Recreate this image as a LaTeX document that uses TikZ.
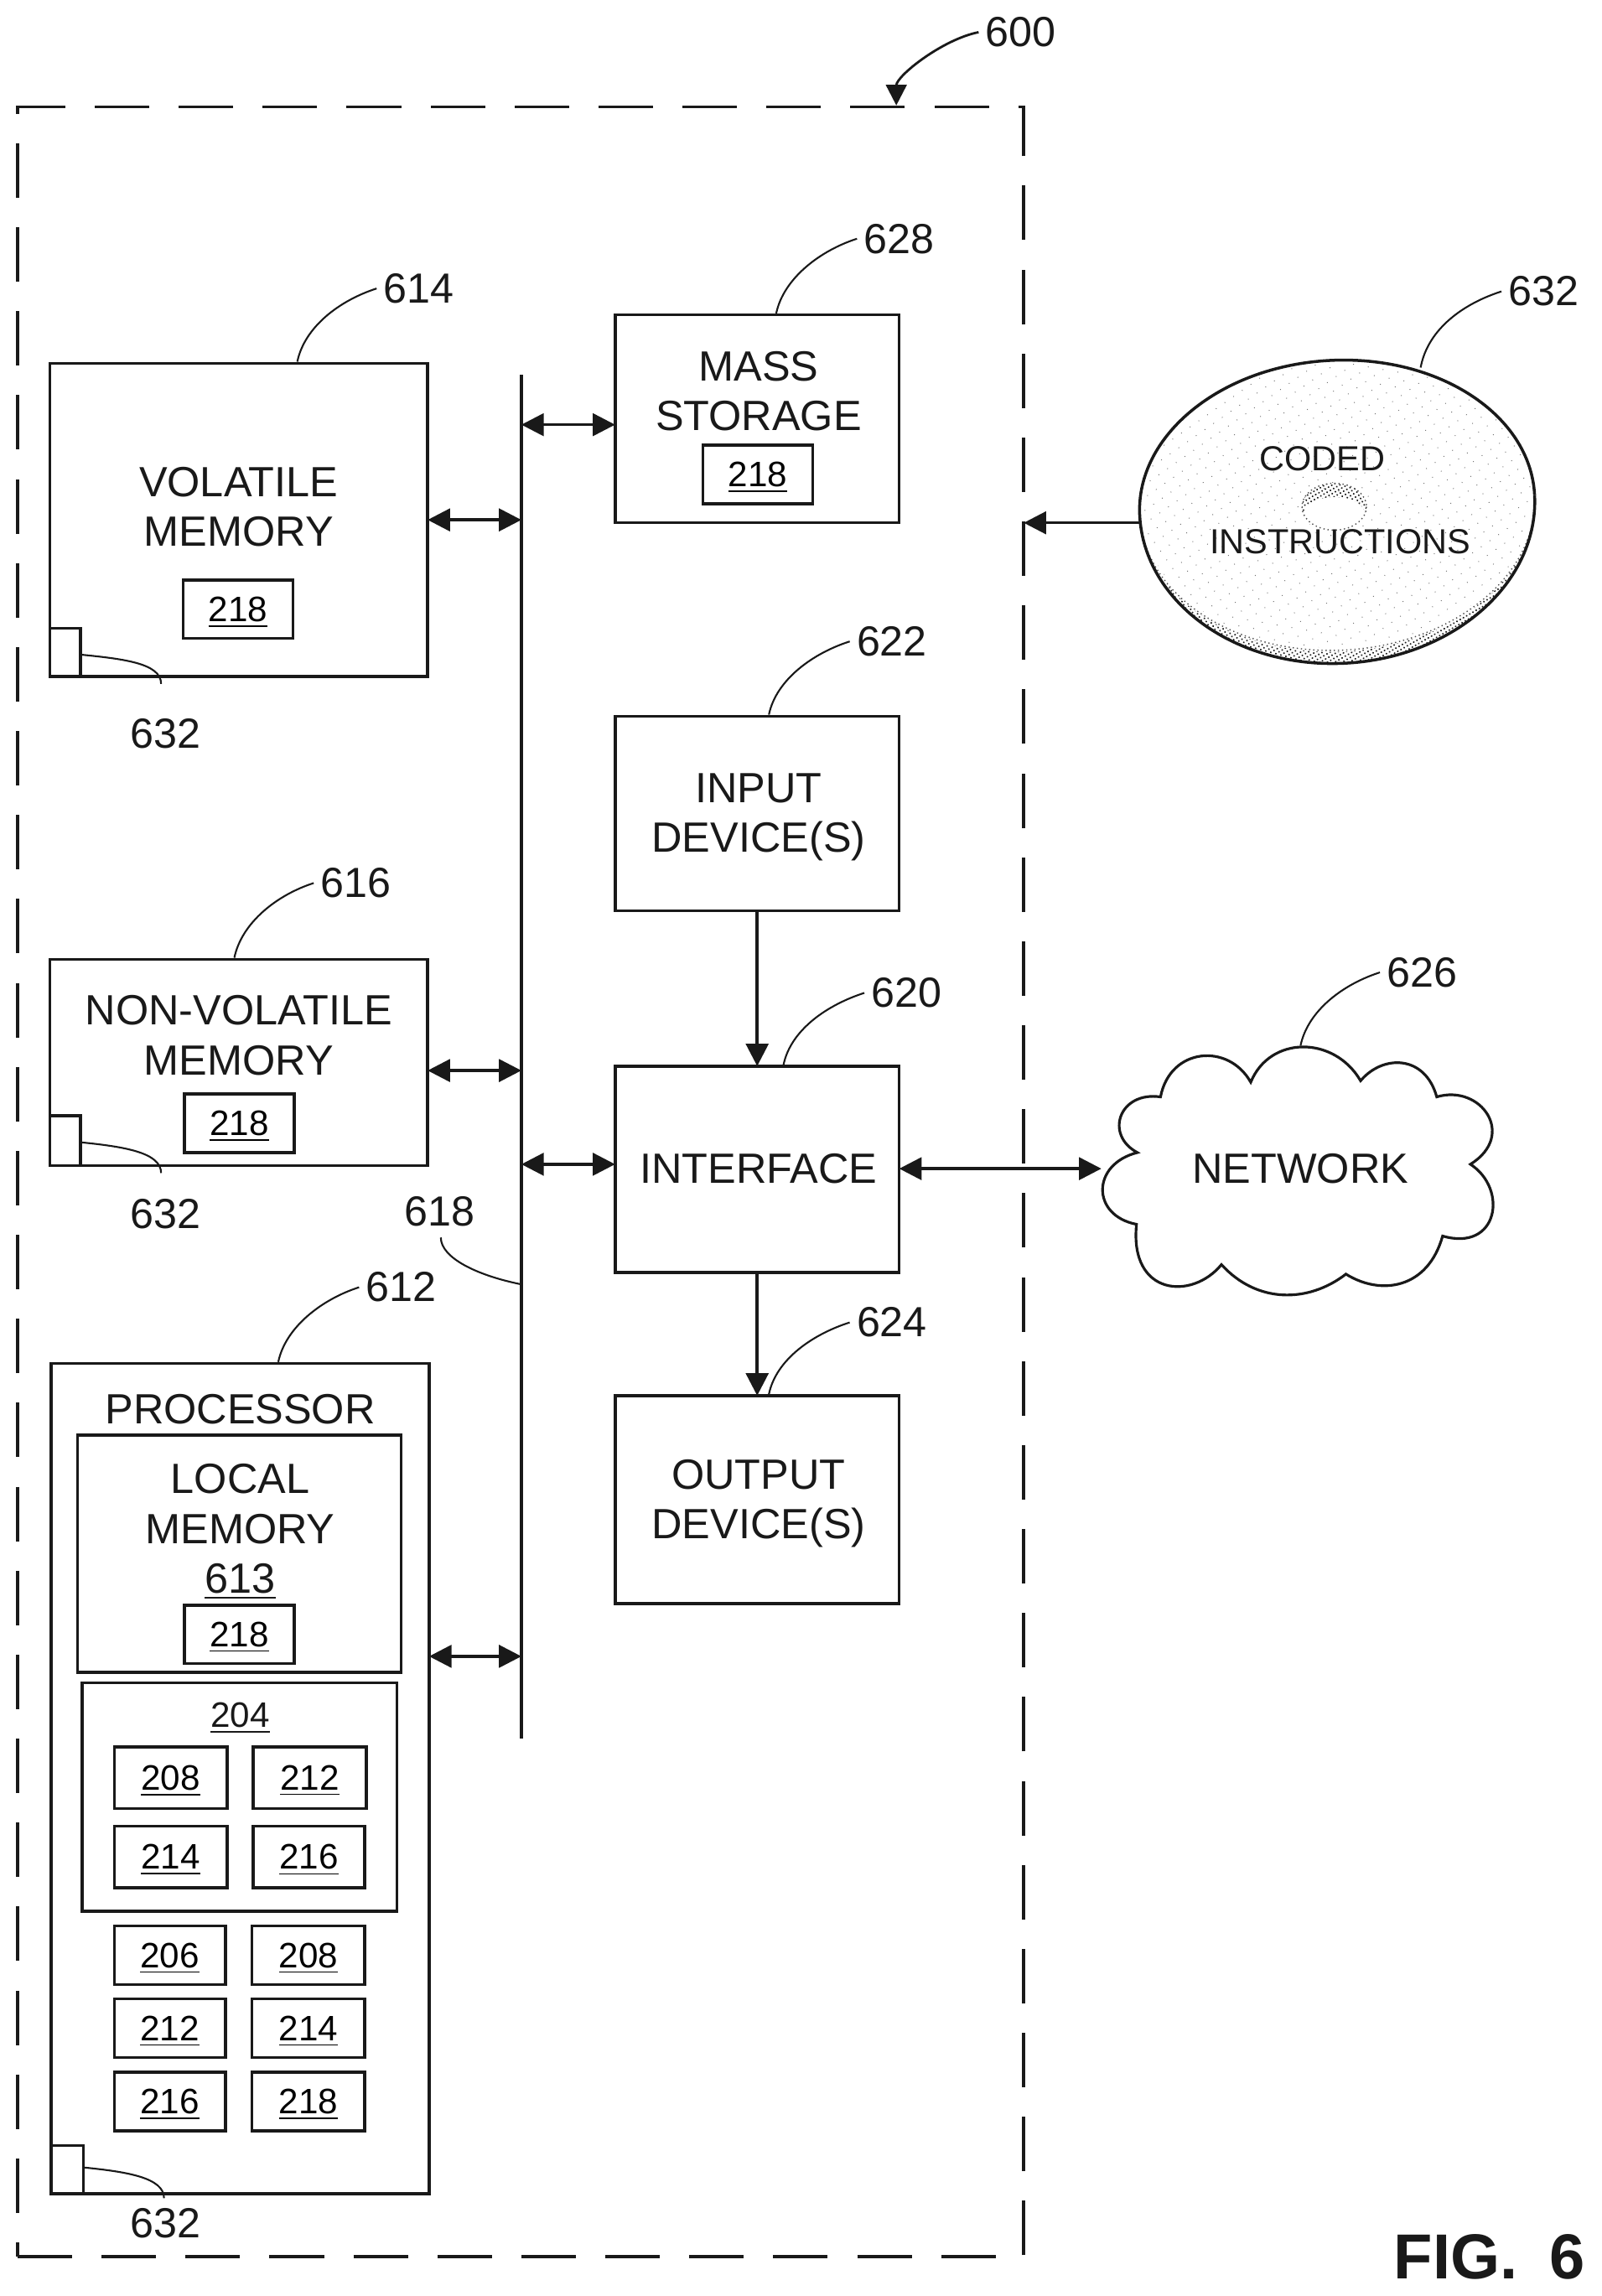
\documentclass[tikz,border=0pt]{standalone}
\usepackage{fontspec}
\setmainfont{Liberation Sans}
\usetikzlibrary{arrows.meta,patterns.meta}
\tikzset{
  x=0.01747cm,y=-0.01747cm,
  boxst/.style={draw=black!90,line width=1pt,fill=white,inner sep=0pt,outer sep=0pt,text depth=0pt,font=\fontsize{12}{14}\selectfont},
  bigtxt/.style={inner sep=0pt,align=center,font=\fontsize{14.35}{16.9}\selectfont,text=black!90},
  numtxt/.style={inner sep=0pt,outer xsep=2.4pt,outer ysep=0pt,font=\fontsize{14.3}{16}\selectfont,text=black!90},
  smalltxt/.style={inner sep=0pt,text depth=0pt,font=\fontsize{12}{14}\selectfont,text=black!90},
  disctxt/.style={inner sep=0pt,font=\fontsize{11.8}{14}\selectfont,text=black!90},
  lead/.style={draw=black!90,line width=0.6pt},
  bar/.style={draw=black!90,line width=1pt},
  one/.style={bar,-{Triangle[length=7.6pt,width=7.6pt]}},
  both/.style={bar,{Triangle[length=7.6pt,width=7.6pt]}-{Triangle[length=7.6pt,width=7.6pt]}},
  outerbox/.style={draw=black!90,line width=1pt,dash pattern=on 18.5pt off 10pt,inner sep=0pt,outer sep=0pt},
  stipple/.style={pattern={Dots[radius=0.33pt,distance=1.25pt,angle=30]},pattern color=black!90},
  sparse/.style={pattern={Dots[radius=0.2pt,distance=3.6pt,angle=35]},pattern color=black!55},
}
\newcommand{\bx}[6]{%
  \pgfmathsetmacro\bxcx{(#2+#4)/2}\pgfmathsetmacro\bxcy{(#3+#5)/2}%
  \pgfmathsetmacro\bxw{(#4-#2)*0.01747}\pgfmathsetmacro\bxh{(#5-#3)*0.01747}%
  \node[boxst,minimum width=\bxw cm,minimum height=\bxh cm] (#1) at (\bxcx,\bxcy) {#6};}
\newcommand{\ul}[1]{\underline{#1}}
\begin{document}
\begin{tikzpicture}
\useasboundingbox (0,0) rectangle (1093.3,1567.8);
% outer dashed box
\node[outerbox,minimum width=12.002cm,minimum height=25.646cm] (outer) at (355.5,807) {};
\node[numtxt] (l600) at (697,22) {600};
\coordinate (c600b) at (612,72);
\draw[lead,line width=0.8pt,-{Triangle[length=7pt,width=7pt]}] (l600.west) .. controls +(-25,5) and +(0,-20) .. (c600b);
% bus
\node[inner sep=0pt,outer sep=0pt,minimum width=0pt,minimum height=16.265cm] (bus) at (356,721.5) {};
\draw[bar] (bus.north) -- (bus.south);
% volatile memory
\bx{vol}{34}{248}{292}{462}{}
\node[bigtxt] (voltx) at (163,346) {VOLATILE\\MEMORY};
\bx{volr}{125}{396}{200}{436}{\ul{218}}
\bx{volc}{34}{429}{55}{462}{}
\node[numtxt] (l614) at (286,197) {614};
\coordinate (c614) at (203,247);
\draw[lead] (c614) .. controls +(5,-24) and +(-25,8) .. (l614.west);
\node[numtxt] (l632a) at (113,501) {632};
\coordinate (c632a) at (55,447);
\coordinate (e632a) at (110,467);
\draw[lead] (c632a) .. controls +(30,3) and +(0,-14) .. (e632a);
% non-volatile memory
\bx{nv}{34}{655}{292}{796}{}
\node[bigtxt] (nvtx) at (163,707) {NON-VOLATILE\\MEMORY};
\bx{nvr}{126}{747}{201}{787}{\ul{218}}
\bx{nvc}{34}{762}{55}{796}{}
\node[numtxt] (l616) at (243,603) {616};
\coordinate (c616) at (160,654);
\draw[lead] (c616) .. controls +(5,-24) and +(-25,8) .. (l616.west);
\node[numtxt] (l632b) at (113,829) {632};
\coordinate (c632b) at (55,780);
\coordinate (e632b) at (110,801);
\draw[lead] (c632b) .. controls +(30,3) and +(0,-14) .. (e632b);
% processor
\bx{proc}{35}{931}{293}{1498}{}
\node[bigtxt] (proctx) at (164,962) {PROCESSOR};
\bx{lm}{53}{980}{274}{1142}{}
\node[bigtxt] (lmtx) at (164,1046) {LOCAL\\MEMORY\\\ul{613}};
\bx{lmr}{126}{1096}{201}{1136}{\ul{218}}
\bx{core}{56}{1149}{271}{1305}{}
\node[smalltxt] (coretx) at (164,1171) {\ul{204}};
\bx{ca}{78}{1193}{155}{1235}{\ul{208}}
\bx{cb}{173}{1193}{250}{1235}{\ul{212}}
\bx{cc}{78}{1247}{155}{1289}{\ul{214}}
\bx{cd}{173}{1247}{249}{1289}{\ul{216}}
\bx{da}{78}{1315}{154}{1355}{\ul{206}}
\bx{db}{172}{1315}{249}{1355}{\ul{208}}
\bx{dc}{78}{1365}{154}{1405}{\ul{212}}
\bx{dd}{172}{1365}{249}{1405}{\ul{214}}
\bx{de}{78}{1415}{154}{1455}{\ul{216}}
\bx{df}{172}{1415}{249}{1455}{\ul{218}}
\bx{procc}{35}{1465}{57}{1498}{}
\node[numtxt] (l612) at (274,879) {612};
\coordinate (c612) at (190,930);
\draw[lead] (c612) .. controls +(5,-24) and +(-25,8) .. (l612.west);
\node[numtxt] (l632c) at (113,1518) {632};
\coordinate (c632c) at (57,1480);
\coordinate (e632c) at (112,1501);
\draw[lead] (c632c) .. controls +(30,3) and +(0,-14) .. (e632c);
% bus label
\node[numtxt] (l618) at (300,827) {618};
\coordinate (c618) at (356,877);
\coordinate (e618) at (301,845);
\draw[lead] (c618) .. controls +(-30,-6) and +(0,14) .. (e618);
% centre column
\bx{mass}{420}{215}{614}{357}{}
\node[bigtxt] (masstx) at (518,267) {MASS\\STORAGE};
\bx{massr}{480}{304}{555}{344}{\ul{218}}
\node[numtxt] (l628) at (614,163) {628};
\coordinate (c628) at (530,214);
\draw[lead] (c628) .. controls +(5,-24) and +(-25,8) .. (l628.west);
\bx{inp}{420}{489}{614}{622}{}
\node[bigtxt] (inptx) at (518,558) {INPUT\\DEVICE(S)};
\node[numtxt] (l622) at (609,438) {622};
\coordinate (c622) at (525,488);
\draw[lead] (c622) .. controls +(5,-24) and +(-25,8) .. (l622.west);
\bx{intf}{420}{728}{614}{869}{}
\node[bigtxt] (intftx) at (518,798) {INTERFACE};
\node[numtxt] (l620) at (619,678) {620};
\coordinate (c620) at (535,727);
\draw[lead] (c620) .. controls +(5,-24) and +(-25,8) .. (l620.west);
\bx{outp}{420}{953}{614}{1095}{}
\node[bigtxt] (outptx) at (518,1026.5) {OUTPUT\\DEVICE(S)};
\node[numtxt] (l624) at (609,903) {624};
\coordinate (c624) at (525,952);
\draw[lead] (c624) .. controls +(5,-24) and +(-25,8) .. (l624.west);
% arrows
\draw[both] (vol.east) -- (vol.east -| bus);
\coordinate (nvp) at (292,731);
\draw[both] (nvp) -- (nvp -| bus);
\coordinate (procp) at (293,1131);
\draw[both] (procp) -- (procp -| bus);
\coordinate (massp) at (420,290);
\draw[both] (massp -| bus) -- (massp);
\coordinate (intfp) at (420,795);
\draw[both] (intfp -| bus) -- (intfp);
\coordinate (inpp) at (517,622);
\draw[one] (inpp) -- (inpp |- intf.north);
\coordinate (intfq) at (517,869);
\draw[one] (intfq) -- (intfq |- outp.north);
% network
\node[bigtxt] (nettx) at (888,798) {NETWORK};
\draw[bar,line width=0.9pt] (776,836) .. controls (745,830) and (745,795) .. (776.6,787)
 .. controls (754,775) and (764,745) .. (792.4,749)
 .. controls (799,715) and (839,712) .. (854,739)
 .. controls (867,707) and (911,707) .. (929,738)
 .. controls (944,720) and (973,720) .. (981,749)
 .. controls (1011,740) and (1036,775) .. (1004,795)
 .. controls (1030,812) and (1023,855) .. (985,844)
 .. controls (975,880) and (943,885) .. (919,870)
 .. controls (893,890) and (858,890) .. (834,863.5)
 .. controls (814,888) and (771,885) .. (776,836) -- cycle;
\coordinate (cnet) at (752,798);
\coordinate (intfr) at (614,798);
\draw[both] (intfr) -- (cnet);
\node[numtxt] (l626) at (971,664) {626};
\coordinate (c626) at (888,714);
\draw[lead] (c626) .. controls +(5,-24) and +(-25,8) .. (l626.west);
% disc
\begin{scope}[rotate around={3:(913,345)}]
\path[sparse] (913,345) ellipse[x radius=133,y radius=97];
\path[stipple] (778,346) arc[start angle=180,end angle=360,x radius=135,y radius=-107] -- (1048,346) arc[start angle=0,end angle=-180,x radius=135,y radius=-99] -- cycle;
\draw[black!70,line width=0.4pt,densely dotted] (778,345) arc[start angle=180,end angle=360,x radius=135,y radius=-99];
\draw[bar] (778,345) arc[start angle=180,end angle=360,x radius=135,y radius=99];
\draw[bar] (778,345) arc[start angle=180,end angle=0,x radius=135,y radius=108];
\end{scope}
% hole
\path[stipple] (911,346) ellipse[x radius=22,y radius=16];
\fill[white] (911,351) ellipse[x radius=21,y radius=11.5];
\draw[black!70,line width=0.4pt,densely dotted] (911,346) ellipse[x radius=22,y radius=16];
\node[disctxt] (disca) at (903,313) {CODED};
\node[disctxt] (discb) at (915,370) {INSTRUCTIONS};
\coordinate (cdisc) at (778,357);
\coordinate (outp2) at (699,357);
\draw[one] (cdisc) -- (outp2);
\node[numtxt] (l632d) at (1054,199) {632};
\coordinate (c632d) at (970,251);
\draw[lead] (c632d) .. controls +(5,-27) and +(-25,8) .. (l632d.west);
% figure label
\node[inner sep=0pt,font=\bfseries\fontsize{21.6}{26}\selectfont,text=black!90] (fig) at (1017,1541) {FIG.\hspace{0.5em}6};
\end{tikzpicture}
\end{document}
